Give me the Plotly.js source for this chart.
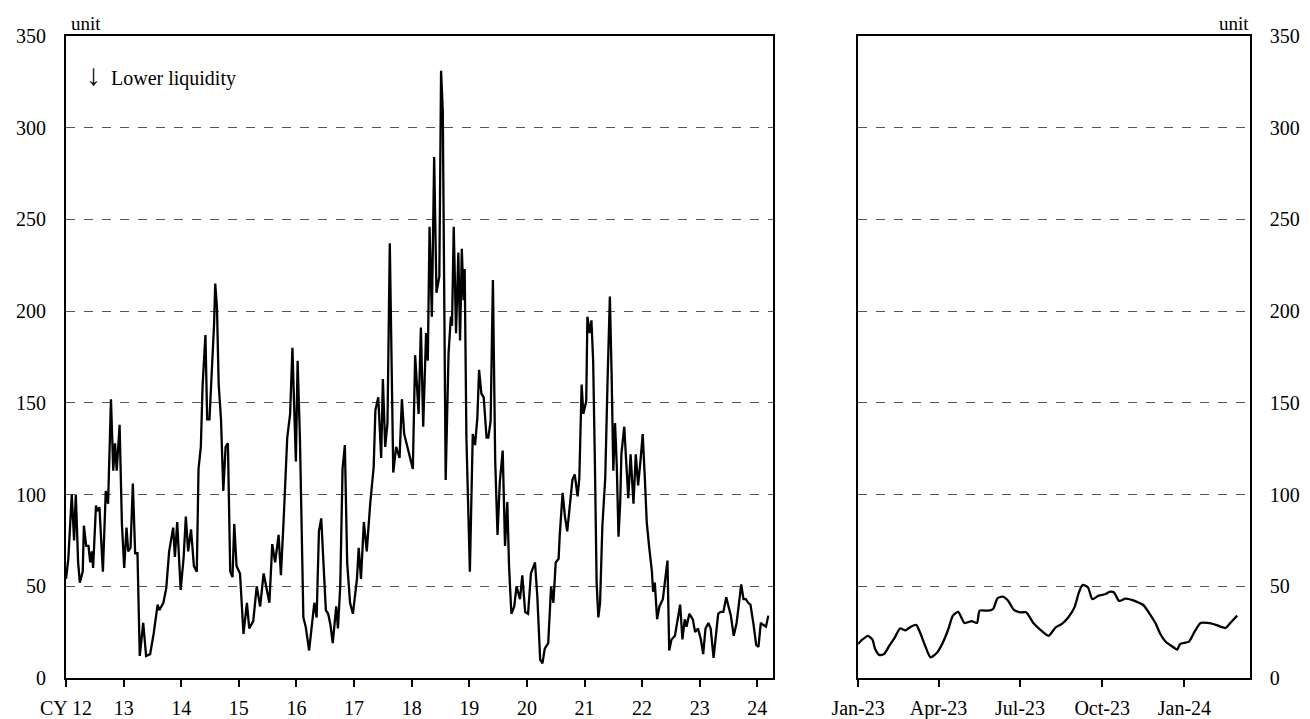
<!DOCTYPE html>
<html>
<head>
<meta charset="utf-8">
<script src="https://cdn.plot.ly/plotly-3.0.1.min.js"></script>
</head>
<body style="margin:0">
<div id="chart" style="width:1310px;height:719px"></div>
<script>
// long history, x as years since start of CY2012
var longYears = [0,.04,.10,.14,.17,.21,.24,.29,.31,.35,.39,.42,.45,.47,.52,.54,.58,.64,.69,.73,.78,.82,.85,.88,.93,.97,
  1.01,1.05,1.08,1.12,1.16,1.20,1.24,1.28,1.34,1.39,1.46,1.52,1.59,1.62,1.69,1.74,1.79,1.86,1.89,1.93,1.99,
  2.04,2.08,2.12,2.17,2.22,2.27,2.30,2.34,2.37,2.40,2.42,2.45,2.49,2.53,2.57,2.59,2.62,2.65,2.69,2.73,2.77,2.81,2.85,2.89,2.92,2.96,
  3.02,3.08,3.14,3.18,3.25,3.31,3.37,3.43,3.48,3.53,3.58,3.63,3.69,3.73,3.78,3.84,3.89,3.93,3.96,3.99,
  4.02,4.06,4.12,4.16,4.22,4.28,4.31,4.35,4.39,4.43,4.47,4.51,4.55,4.59,4.63,4.69,4.72,4.76,4.80,4.84,4.88,4.93,4.98,
  5.05,5.08,5.12,5.17,5.22,5.28,5.34,5.37,5.42,5.47,5.50,5.54,5.58,5.62,5.68,5.73,5.79,5.83,5.87,5.91,5.96,
  6.02,6.06,6.12,6.16,6.20,6.25,6.28,6.31,6.35,6.39,6.43,6.48,6.51,6.54,6.57,6.59,6.64,6.68,6.70,6.73,6.77,6.81,6.84,6.87,6.90,6.92,6.95,6.98,
  7.01,7.06,7.10,7.14,7.17,7.21,7.25,7.30,7.33,7.37,7.41,7.45,7.49,7.53,7.58,7.62,7.66,7.69,7.73,7.78,7.82,7.88,7.92,7.97,
  8.02,8.07,8.14,8.18,8.23,8.27,8.31,8.37,8.42,8.46,8.50,8.55,8.57,8.62,8.66,8.70,8.75,8.79,8.83,8.88,8.91,8.95,8.98,
  9.03,9.05,9.09,9.12,9.15,9.18,9.21,9.24,9.27,9.31,9.36,9.40,9.44,9.47,9.50,9.53,9.56,9.59,9.62,9.64,9.69,9.72,9.76,9.80,9.85,9.89,9.93,9.97,
  10.01,10.05,10.08,10.12,10.17,10.19,10.22,10.26,10.30,10.36,10.40,10.44,10.47,10.51,10.57,10.61,10.66,10.70,10.74,10.77,10.82,10.88,10.92,10.97,
  11.02,11.06,11.10,11.15,11.19,11.24,11.28,11.32,11.36,11.41,11.46,11.50,11.54,11.59,11.64,11.69,11.72,11.76,11.80,11.84,11.88,11.93,11.98,
  12.02,12.06,12.10,12.15,12.19];
var longValues = [54,65,100,75,100,63,52,58,83,72,72,63,69,60,94,91,93,58,102,95,152,113,128,113,138,84,
  60,82,69,71,106,68,68,12,30,12,13,24,40,37,41,49,69,82,66,85,48,
  65,88,69,81,61,58,114,126,159,176,187,141,141,167,193,215,202,160,141,102,126,128,58,55,84,61,
  57,24,41,27,31,50,39,57,49,41,73,63,78,56,88,131,144,180,148,118,
  173,131,33,28,15,31,41,33,80,87,63,37,35,29,19,39,27,50,114,127,63,41,35,
  54,71,54,85,69,95,115,146,153,120,163,126,139,237,112,126,120,152,133,128,122,
  114,176,144,191,137,188,173,246,197,284,210,219,331,309,206,108,177,197,192,246,188,232,184,234,206,223,131,85,
  58,133,127,142,168,155,153,131,131,140,217,118,78,107,124,72,96,61,35,39,50,43,56,36,
  35,57,63,45,10,8,16,19,50,41,63,65,78,101,88,80,98,108,111,99,109,160,144,
  151,197,188,195,173,118,52,33,41,83,109,162,208,166,113,139,116,77,96,122,137,120,98,122,95,122,105,118,
  133,107,85,72,58,47,52,32,39,43,55,64,15,21,23,30,40,21,32,28,35,32,25,27,
  21,13,27,30,27,11,23,35,36,36,44,38,34,23,30,43,51,43,43,41,40,30,18,
  17,30,29,28,34];
var longTickVals = [0,1,2,3,4,5,6,7,8,9,10,11,12];
var longTickText = ['CY 12','13','14','15','16','17','18','19','20','21','22','23','24'];

// recent detail, Jan-23 onward
var recentDates = ['2023-01-01','2023-01-06','2023-01-12','2023-01-17','2023-01-20','2023-01-25','2023-01-30',
  '2023-02-05','2023-02-11','2023-02-17','2023-02-23','2023-02-28','2023-03-07','2023-03-12','2023-03-17','2023-03-23','2023-03-30',
  '2023-04-06','2023-04-12','2023-04-17','2023-04-23','2023-04-30','2023-05-08','2023-05-14','2023-05-17','2023-05-27',
  '2023-06-01','2023-06-06','2023-06-12','2023-06-18','2023-06-24','2023-07-01','2023-07-08','2023-07-16','2023-07-23',
  '2023-08-02','2023-08-10','2023-08-17','2023-08-24','2023-08-31','2023-09-05','2023-09-09','2023-09-15','2023-09-20','2023-09-27',
  '2023-10-05','2023-10-09','2023-10-14','2023-10-20','2023-10-27','2023-11-04','2023-11-11','2023-11-16','2023-11-22','2023-11-30',
  '2023-12-05','2023-12-11','2023-12-18','2023-12-24','2023-12-27','2024-01-06','2024-01-12','2024-01-19','2024-01-27',
  '2024-02-05','2024-02-16','2024-02-22','2024-02-29'];
var recentValues = [18.5,21,23,21,16,12.5,13,17.6,22,27,26,27.6,29,24,17.6,11.3,13.6,
  19.5,26.7,34,36,30,31,30,36.7,36.7,37.6,43.5,44.4,42,37.3,35.8,35.8,30,26.7,
  23,27.6,29.5,33,38.5,46.7,50.7,49.5,43,44.9,45.8,47,46.7,42,43.3,42.5,41,39.8,35.8,29.5,
  24,19.8,17.3,15.5,18.5,19.8,25,30,30,29,27.3,30.4,34];
var recentTickVals = ['2023-01-01','2023-04-01','2023-07-01','2023-10-01','2024-01-01'];
var recentTickText = ['Jan-23','Apr-23','Jul-23','Oct-23','Jan-24'];
var yTicks = [0,50,100,150,200,250,300,350];

var traces = [
  {x: longYears, y: longValues, xaxis:'x', yaxis:'y', mode:'lines',
   line:{color:'#000', width:2.3}, hoverinfo:'y'},
  {x: recentDates, y: recentValues, xaxis:'x2', yaxis:'y2', mode:'lines',
   line:{color:'#000', width:2.3, shape:'spline', smoothing:0.6}, hoverinfo:'y'}
];

function yAxis(anchor, side) {
  return {anchor:anchor, side:side, range:[0,350], tickvals:yTicks, showgrid:true, gridcolor:'#555', griddash:'dash', gridwidth:1,
    zeroline:false, showline:true, linecolor:'#000', linewidth:2, mirror:true, ticks:'', ticklabelstandoff:14, fixedrange:true};
}
function xAxis(domain) {
  return {domain:domain, ticks:'outside', ticklen:7, tickwidth:2, tickcolor:'#000', showgrid:false, zeroline:false,
    showline:true, linecolor:'#000', linewidth:2, mirror:true, ticklabelstandoff:4, fixedrange:true};
}

var xa = xAxis([0.0504,0.590]);
xa.range = [0,12.27]; xa.tickvals = longTickVals; xa.ticktext = longTickText;
var xb = xAxis([0.655,0.954]);
xb.type = 'date'; xb.range = ['2023-01-01','2024-03-14']; xb.tickvals = recentTickVals; xb.ticktext = recentTickText;

var layout = {
  width:1310, height:719, showlegend:false,
  font:{family:'Liberation Serif', size:20, color:'#000'},
  margin:{l:0, r:0, t:36, b:41},
  xaxis:xa, yaxis:yAxis('x','left'),
  xaxis2:xb, yaxis2:yAxis('x2','right'),
  annotations:[
    {xref:'paper', yref:'paper', x:0.053, y:1.0, yanchor:'bottom', xanchor:'left', showarrow:false, text:'unit', font:{size:19}},
    {xref:'paper', yref:'paper', x:0.955, y:1.0, yanchor:'bottom', xanchor:'right', showarrow:false, text:'unit', font:{size:19}},
    {xref:'paper', yref:'paper', x:0.064, y:0.94, yanchor:'middle', xanchor:'left', showarrow:false, text:'<span style="font-size:30px">↓</span>  Lower liquidity', font:{size:20}}
  ]
};

Plotly.newPlot('chart', traces, layout, {displayModeBar:false});
</script>
</body>
</html>
